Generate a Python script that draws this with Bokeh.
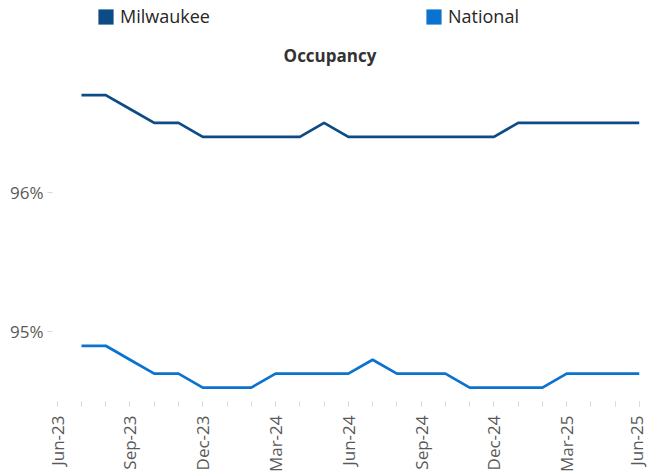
from bokeh.plotting import figure
from bokeh.models import (Range1d, FixedTicker, PrintfTickFormatter, Legend, LegendItem, Label)
from bokeh.embed import file_html
from bokeh.resources import INLINE
from math import pi

# axis months (Jun-23 .. Jun-25)
axis_months = ["Jun-23", "Jul-23", "Aug-23", "Sep-23", "Oct-23", "Nov-23", "Dec-23",
               "Jan-24", "Feb-24", "Mar-24", "Apr-24", "May-24", "Jun-24",
               "Jul-24", "Aug-24", "Sep-24", "Oct-24", "Nov-24", "Dec-24",
               "Jan-25", "Feb-25", "Mar-25", "Apr-25", "May-25", "Jun-25"]
tick_labels = ["Jun-23", "Sep-23", "Dec-23", "Mar-24", "Jun-24", "Sep-24", "Dec-24", "Mar-25", "Jun-25"]

# data months (Jul-23 .. Jun-25)
months = axis_months[1:]
milwaukee = [96.7, 96.7, 96.6, 96.5, 96.5, 96.4, 96.4, 96.4, 96.4, 96.4, 96.5, 96.4,
             96.4, 96.4, 96.4, 96.4, 96.4, 96.4, 96.5, 96.5, 96.5, 96.5, 96.5, 96.5]
national = [94.9, 94.9, 94.8, 94.7, 94.7, 94.6, 94.6, 94.6, 94.7, 94.7, 94.7, 94.7,
            94.8, 94.7, 94.7, 94.7, 94.6, 94.6, 94.6, 94.6, 94.7, 94.7, 94.7, 94.7]
y_ticks = [95, 96]

MIL_COLOR = "#0D4B87"
NAT_COLOR = "#0A73D0"
FONT = "Open Sans"
NAN = float("nan")

x = [axis_months.index(m) for m in months]

p = figure(width=647, height=475, output_backend="svg", toolbar_location=None,
           x_range=Range1d(-0.194, 24.0), y_range=Range1d(94.5, 97.379),
           min_border_left=52, min_border_right=8, min_border_top=0, min_border_bottom=72)
p.outline_line_color = None
p.grid.visible = False
p.background_fill_color = "white"
p.border_fill_color = "white"

r_mil = p.line(x, milwaukee, line_color=MIL_COLOR, line_width=2.75)
r_nat = p.line(x, national, line_color=NAT_COLOR, line_width=2.75)

# x axis
major = [axis_months.index(t) for t in tick_labels]
p.xaxis.ticker = FixedTicker(ticks=major, minor_ticks=list(range(len(axis_months))))
p.xaxis.major_label_overrides = {axis_months.index(t): t for t in tick_labels}
p.xaxis.major_label_orientation = pi / 2
p.xaxis.axis_line_color = None
p.xaxis.major_tick_line_color = "#D9D9D9"
p.xaxis.minor_tick_line_color = "#D9D9D9"
p.xaxis.major_tick_in = 0
p.xaxis.major_tick_out = 5
p.xaxis.minor_tick_in = 0
p.xaxis.minor_tick_out = 5
p.xaxis.major_label_standoff = 9
p.xaxis.major_label_text_font = FONT
p.xaxis.major_label_text_font_size = "17px"
p.xaxis.major_label_text_color = "#595959"

# y axis
p.yaxis.ticker = FixedTicker(ticks=y_ticks, minor_ticks=[])
p.yaxis.formatter = PrintfTickFormatter(format="%d%%")
p.yaxis.axis_line_color = None
p.yaxis.major_tick_line_color = "#D9D9D9"
p.yaxis.major_tick_in = 0
p.yaxis.major_tick_out = 5
p.yaxis.major_label_standoff = 4
p.yaxis.major_label_text_font = FONT
p.yaxis.major_label_text_font_size = "17px"
p.yaxis.major_label_text_color = "#595959"

# legend square proxies (no visible data)
sq_mil = p.quad(left=[NAN], right=[NAN], top=[NAN], bottom=[NAN], fill_color=MIL_COLOR, line_color=None)
sq_nat = p.quad(left=[NAN], right=[NAN], top=[NAN], bottom=[NAN], fill_color=NAT_COLOR, line_color=None)

for name, rend, loc in [("Milwaukee", sq_mil, (44, 373)), ("National", sq_nat, (372, 373))]:
    lg = Legend(items=[LegendItem(label=name, renderers=[rend])], location=loc,
                glyph_width=19, glyph_height=19, label_standoff=5, padding=0, margin=0,
                border_line_color=None, background_fill_alpha=0,
                label_text_font=FONT, label_text_font_size="18px", label_text_color="#262626")
    p.add_layout(lg, "center")

title = Label(x=277.5, y=346, x_units="screen", y_units="screen", text="Occupancy",
              text_align="center", text_baseline="middle", text_font=FONT,
              text_font_size="17px", text_font_style="bold", text_color="#333333")
p.add_layout(title)

open("out.html", "w").write(file_html(p, INLINE))
